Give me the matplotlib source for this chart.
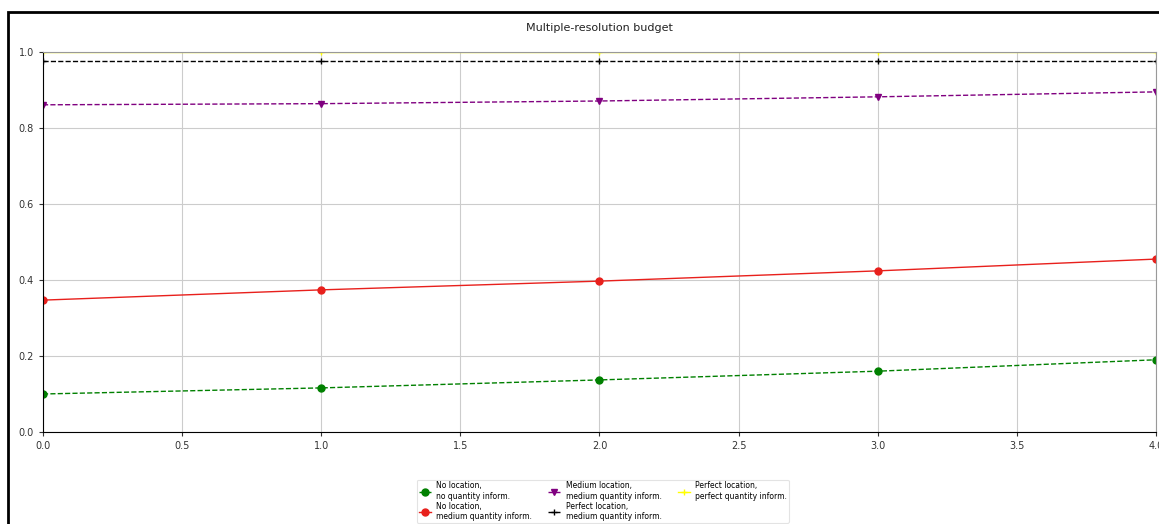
import matplotlib
matplotlib.use("Agg")
import matplotlib.pyplot as plt
from matplotlib.patches import Rectangle

x = [0, 1, 2, 3, 4]
no_loc_no_qty = [0.100, 0.116, 0.137, 0.160, 0.190]
no_loc_med_qty = [0.347, 0.374, 0.397, 0.424, 0.455]
med_loc_med_qty = [0.861, 0.864, 0.871, 0.882, 0.895]
perf_loc_med_qty = [0.975, 0.975, 0.975, 0.975, 0.975]
perf_loc_perf_qty = [1.0, 1.0, 1.0, 1.0, 1.0]

labels = [
    "No location,\nno quantity inform.",
    "No location,\nmedium quantity inform.",
    "Medium location,\nmedium quantity inform.",
    "Perfect location,\nmedium quantity inform.",
    "Perfect location,\nperfect quantity inform.",
]
title = "Multiple-resolution budget"

plt.rcParams['font.family'] = ['DejaVu Sans']
fig = plt.figure(figsize=(11.59, 5.24), dpi=100)
ax = fig.add_axes([0.0371, 0.1756, 0.9603, 0.7252])

ax.plot(x, no_loc_no_qty, color='green', linestyle='--', marker='o', markersize=5, lw=1, label=labels[0])
ax.plot(x, no_loc_med_qty, color='#e8201c', linestyle='-', marker='o', markersize=5, lw=1, label=labels[1])
ax.plot(x, med_loc_med_qty, color='purple', linestyle='--', marker='v', markersize=5, lw=1, label=labels[2])
ax.plot(x, perf_loc_med_qty, color='black', linestyle='--', marker='+', markersize=5, lw=1, label=labels[3])
ax.plot(x, perf_loc_perf_qty, color='yellow', linestyle='-', marker='+', markersize=5, lw=1, label=labels[4])

ax.set_xlim(0, 4)
ax.set_ylim(0, 1.0)
ax.set_xticks([0, 0.5, 1, 1.5, 2, 2.5, 3, 3.5, 4])
ax.set_yticks([0, 0.2, 0.4, 0.6, 0.8, 1.0])
ax.tick_params(labelsize=7, colors='#333333', length=3)
ax.grid(True, color='#cccccc', lw=0.8)
for s in ['top', 'right']:
    ax.spines[s].set_color('#999999')
ax.set_title(title, fontsize=8, color='#222222', pad=15)

leg = ax.legend(loc='upper center', bbox_to_anchor=(0.503, -0.115), ncol=3,
                fontsize=5.5, frameon=True, handlelength=1.6,
                borderpad=0.25, columnspacing=2.1, labelspacing=0.1,
                handletextpad=0.7, fancybox=True)
leg.get_frame().set_edgecolor('#dddddd')
leg.get_frame().set_linewidth(0.8)

# screenshot frame around figure
fig.patches.append(Rectangle((8 / 1159, -0.1), 1.2, 1 - 12 / 524 + 0.1,
                             transform=fig.transFigure, fill=False,
                             edgecolor='black', lw=2))

fig.savefig("out.png", dpi=100)
